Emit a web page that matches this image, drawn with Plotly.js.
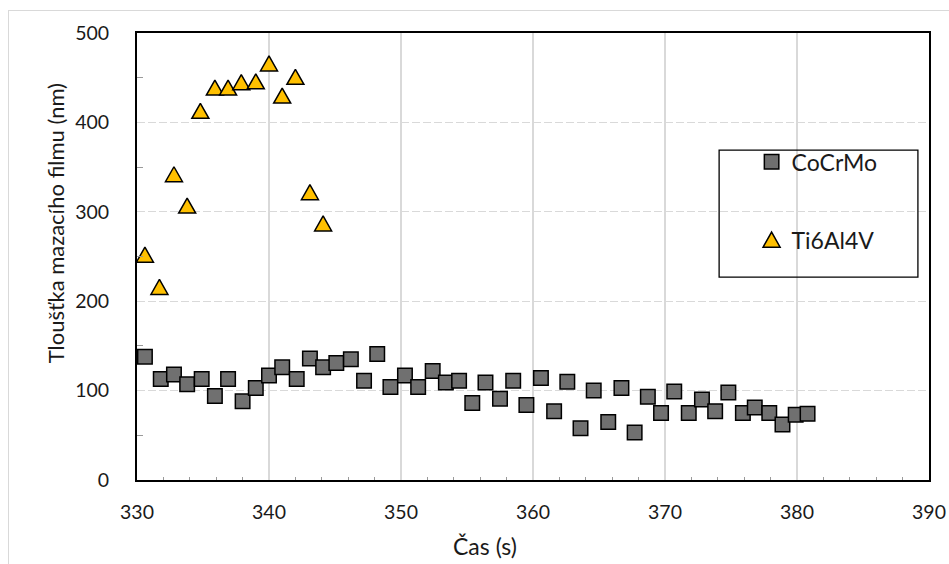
<!DOCTYPE html>
<html>
<head>
<meta charset="utf-8">
<script src="https://cdn.plot.ly/plotly-3.0.1.min.js"></script>
<style>
  html, body { margin: 0; padding: 0; background: #ffffff; overflow: hidden; }
  #wrap { position: relative; width: 949px; height: 564px; }
  #frame { position: absolute; left: 8px; top: 10px; width: 980px; height: 600px;
           border: 1px solid #d9d9d9; box-sizing: border-box; pointer-events: none; }
  #chart { position: absolute; left: 0; top: 0; width: 949px; height: 564px; }
</style>
</head>
<body>
<div id="wrap">
  <div id="chart"></div>
  <div id="frame"></div>
</div>
<script>
// Lubricant film thickness over time for two implant alloys
const timeCoCrMo = [330.6, 331.8, 332.8, 333.8, 334.9, 335.9, 336.9, 338.0, 339.0, 340.0,
                    341.0, 342.1, 343.1, 344.1, 345.1, 346.2, 347.2, 348.2, 349.2, 350.3,
                    351.3, 352.4, 353.4, 354.4, 355.4, 356.4, 357.5, 358.5, 359.5, 360.6,
                    361.6, 362.6, 363.6, 364.6, 365.7, 366.7, 367.7, 368.7, 369.7, 370.7,
                    371.8, 372.8, 373.8, 374.8, 375.9, 376.8, 377.9, 378.9, 379.9, 380.8];
const filmCoCrMo = [138, 113, 118, 107, 113, 94, 113, 88, 103, 117,
                    126, 113, 136, 126, 131, 135, 111, 141, 104, 117,
                    104, 122, 109, 111, 86, 109, 91, 111, 84, 114,
                    77, 110, 58, 100, 65, 103, 53, 93, 75, 99,
                    75, 90, 77, 98, 75, 81, 75, 62, 73, 74];

const timeTi6Al4V = [330.6, 331.7, 332.8, 333.8, 334.8, 335.9, 336.9, 337.9, 339.0, 340.0,
                     341.0, 342.0, 343.1, 344.1];
const filmTi6Al4V = [252, 216, 342, 307, 413, 439, 439, 445, 446, 466,
                     430, 451, 322, 287];

const seriesNames = ['CoCrMo', 'Ti6Al4V'];
const xTitle = 'Čas (s)';
const yTitle = 'Tloušťka mazacího filmu (nm)';

const FONT = 'Lato, "Liberation Sans", sans-serif';
const TEXT = '#1a1a1a';

const traces = [
  {
    x: timeCoCrMo, y: filmCoCrMo, name: seriesNames[0], type: 'scatter', mode: 'markers',
    legendgroup: 'g1',
    marker: { symbol: 'square', size: 14.5, color: '#707070', line: { color: '#000000', width: 1.5 } },
    hoverinfo: 'x+y'
  },
  {
    x: timeTi6Al4V, y: filmTi6Al4V, name: seriesNames[1], type: 'scatter', mode: 'markers',
    legendgroup: 'g2',
    marker: { symbol: 'triangle-up', size: 14, color: '#FFC000', line: { color: '#000000', width: 1.5 } },
    hoverinfo: 'x+y'
  }
];

const layout = {
  width: 949, height: 564,
  margin: { l: 137, r: 20, t: 33, b: 84 },
  paper_bgcolor: 'rgba(0,0,0,0)', plot_bgcolor: '#ffffff',
  font: { family: FONT, color: TEXT, size: 19 },
  showlegend: true,
  legend: {
    x: 0.776, y: 0.76, xanchor: 'left', yanchor: 'top',
    bgcolor: 'rgba(0,0,0,0)', borderwidth: 0,
    font: { family: FONT, size: 23, color: TEXT },
    tracegroupgap: 45, traceorder: 'grouped'
  },
  xaxis: {
    range: [330, 390], dtick: 10, tick0: 330,
    showgrid: true, gridcolor: '#d9d9d9', gridwidth: 1.3,
    showline: true, linecolor: '#000000', linewidth: 2, mirror: true,
    ticks: '', ticklabelstandoff: 14,
    tickfont: { family: FONT, size: 19.5, color: TEXT },
    zeroline: false,
    minor: { dtick: 2, ticks: 'inside', ticklen: 3, tickcolor: '#9a9a9a', tickwidth: 1, showgrid: false }
  },
  yaxis: {
    range: [0, 500], dtick: 100, tick0: 0,
    showgrid: true, gridcolor: '#d9d9d9', gridwidth: 1.3, griddash: '8px,3px',
    showline: true, linecolor: '#000000', linewidth: 2, mirror: true,
    ticks: '', ticklabelstandoff: 22,
    tickfont: { family: FONT, size: 19.5, color: TEXT },
    zeroline: false,
    minor: { dtick: 50, ticks: 'inside', ticklen: 6, tickcolor: '#9a9a9a', tickwidth: 1, showgrid: false }
  },
  shapes: [
    { type: 'rect', xref: 'paper', yref: 'paper', x0: 0.735, x1: 0.986, y0: 0.454, y1: 0.738,
      line: { color: '#000000', width: 1.3 }, fillcolor: 'rgba(0,0,0,0)', layer: 'above' }
  ],
  annotations: [
    { text: xTitle, xref: 'paper', yref: 'paper', x: 0.44, y: -0.147, xanchor: 'center', yanchor: 'middle',
      showarrow: false, font: { family: FONT, size: 23, color: TEXT } },
    { text: yTitle, xref: 'paper', yref: 'paper', x: -0.102, y: 0.575, xanchor: 'center', yanchor: 'middle',
      textangle: -90, showarrow: false, font: { family: FONT, size: 22, color: TEXT } }
  ]
};

// Excel-style near-equilateral triangle for the Ti6Al4V markers
const TRI_PATH = 'M-8.5,7.5H8.5L0,-7.5Z';
function reshapeTriangles(gd) {
  const traceGroups = gd.querySelectorAll('.scatterlayer .trace');
  if (traceGroups[1]) {
    traceGroups[1].querySelectorAll('path.point').forEach(p => p.setAttribute('d', TRI_PATH));
  }
  const legendTraces = gd.querySelectorAll('.legend .traces');
  if (legendTraces[1]) {
    legendTraces[1].querySelectorAll('path.scatterpts').forEach(p => p.setAttribute('d', TRI_PATH));
  }
}

const gd = document.getElementById('chart');
Plotly.newPlot(gd, traces, layout, { displayModeBar: false, staticPlot: true }).then(() => {
  reshapeTriangles(gd);
  gd.on && gd.on('plotly_afterplot', () => reshapeTriangles(gd));
});
</script>
</body>
</html>
